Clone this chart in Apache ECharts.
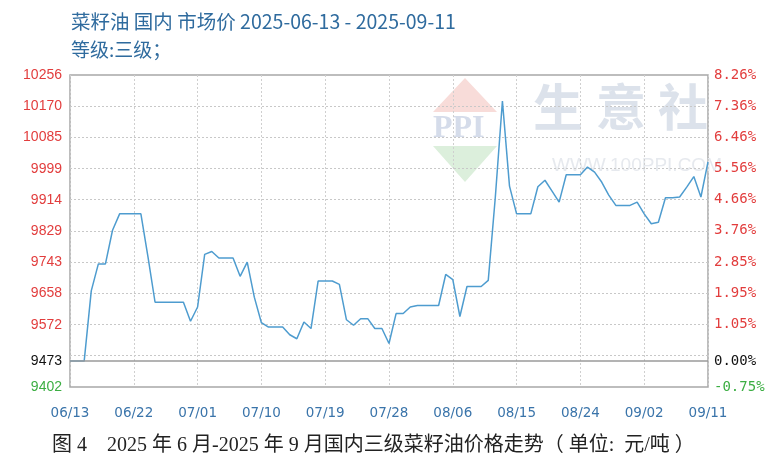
<!DOCTYPE html>
<html>
<head>
<meta charset="utf-8">
<script src="https://cdn.jsdelivr.net/npm/echarts@6/dist/echarts.min.js"></script>
<style>
html, body { margin: 0; padding: 0; background: #fff; }
#chart { width: 771px; height: 463px; }
</style>
</head>
<body>
<div id="chart"></div>
<script>
// 日期: 2025-06-13 ~ 2025-09-11, 每天一个点
const startDay = new Date(2025, 5, 13)
const dayCount = 91
const dates = []
for (let i = 0; i < dayCount; i++) {
  const d = new Date(startDay.getTime() + i * 86400000)
  dates.push(String(d.getMonth() + 1).padStart(2, '0') + '/' + String(d.getDate()).padStart(2, '0'))
}

// 三级菜籽油价格 (元/吨)
const prices = [
  9473, 9473, 9473, 9665, 9739, 9739, 9831, 9876, 9876, 9876,
  9876, 9758, 9634, 9634, 9634, 9634, 9634, 9582, 9621, 9765,
  9773, 9755, 9755, 9755, 9705, 9744, 9648, 9578, 9566, 9566,
  9566, 9545, 9534, 9580, 9562, 9692, 9692, 9692, 9683, 9586,
  9571, 9589, 9589, 9562, 9562, 9521, 9603, 9603, 9621, 9625,
  9625, 9625, 9625, 9710, 9696, 9595, 9677, 9677, 9677, 9694,
  9922, 10185, 9952, 9876, 9876, 9876, 9950, 9968, 9938, 9908,
  9983, 9983, 9983, 10004, 9990, 9963, 9927, 9899, 9899, 9899,
  9908, 9876, 9849, 9853, 9920, 9920, 9922, 9949, 9978, 9922,
  10018
]

const basePrice = 9473
const leftTicks = [10256, 10170, 10085, 9999, 9914, 9829, 9743, 9658, 9572, 9473, 9402]
const gridTicks = [10171, 10085, 10000, 9915, 9829, 9744, 9659, 9573, 9488]
const pctTicks = [8.26, 7.36, 6.46, 5.56, 4.66, 3.76, 2.85, 1.95, 1.05, 0, -0.75]

const upColor = '#e23d3d'
const downColor = '#3cae43'

let chart = echarts.init(document.getElementById('chart'))
const option = {
  animation: false,
  title: [
    {
      text: '菜籽油 国内 市场价 2025-06-13 - 2025-09-11',
      left: 66,
      top: 7,
      textStyle: { fontSize: 19.5, fontWeight: 'normal', color: '#2f6b9e', fontFamily: 'Noto Sans CJK SC' }
    },
    {
      text: '等级:三级；',
      left: 66,
      top: 35,
      textStyle: { fontSize: 19, fontWeight: 'normal', color: '#2f6b9e', fontFamily: 'Noto Sans CJK SC' }
    },
    {
      text: '图 4    2025 年 6 月-2025 年 9 月国内三级菜籽油价格走势（ 单位:  元/吨 ）',
      left: 47,
      top: 431,
      textStyle: { fontSize: 20, fontWeight: 'normal', color: '#222', fontFamily: "'Liberation Serif', 'Noto Sans CJK SC'" }
    }
  ],
  grid: {
    left: 70,
    right: 63,
    top: 75,
    bottom: 76,
    show: true,
    borderColor: '#a8a8a8',
    borderWidth: 1.5
  },
  graphic: [
    // 水印
    { type: 'polygon', shape: { points: [[465, 78], [433, 112], [497, 112]] }, style: { fill: '#f8dcd9' }, silent: true },
    { type: 'polygon', shape: { points: [[433, 146], [497, 146], [465, 182]] }, style: { fill: '#dcefdc' }, silent: true },
    { type: 'text', left: 433, top: 113, style: { text: 'PPI', fontSize: 32, fontWeight: 'bold', fontFamily: 'Liberation Serif', fill: '#d5dcea' }, silent: true },
    { type: 'text', left: 533, top: 82, style: { text: '生', fontSize: 50, fontWeight: 'bold', fontFamily: 'Noto Sans CJK SC', fill: '#dce2eb' }, silent: true },
    { type: 'text', left: 596, top: 82, style: { text: '意', fontSize: 50, fontWeight: 'bold', fontFamily: 'Noto Sans CJK SC', fill: '#dce2eb' }, silent: true },
    { type: 'text', left: 658, top: 82, style: { text: '社', fontSize: 50, fontWeight: 'bold', fontFamily: 'Noto Sans CJK SC', fill: '#dce2eb' }, silent: true },
    { type: 'text', left: 552, top: 156, style: { text: 'WWW.100PPI.COM', fontSize: 19, fontFamily: 'Liberation Sans', fill: '#e6e9ee' }, silent: true }
  ],
  xAxis: {
    type: 'category',
    data: dates,
    boundaryGap: false,
    axisLine: { show: false },
    axisTick: { show: false },
    axisLabel: {
      interval: 8,
      margin: 19,
      color: '#3a74aa',
      fontSize: 13.5,
      fontFamily: 'DejaVu Sans'
    },
    splitLine: {
      show: true,
      interval: 8,
      lineStyle: { color: '#cfcfcf', type: [2, 2] }
    }
  },
  yAxis: [
    {
      type: 'value',
      min: 9402,
      max: 10256,
      axisLine: { show: false },
      axisTick: { show: false, customValues: gridTicks },
      axisLabel: {
        customValues: leftTicks,
        margin: 8,
        fontSize: 14,
        fontFamily: 'Liberation Sans',
        formatter: (v) => String(v),
        color: (v) => {
          const n = Number(v)
          if (n > basePrice) return upColor
          if (n < basePrice) return downColor
          return '#111'
        }
      },
      splitLine: { show: true, lineStyle: { color: '#c8c8c8', type: [2, 2] } }
    },
    {
      type: 'value',
      position: 'right',
      min: -0.75,
      max: 8.26,
      axisLine: { show: false },
      axisTick: { show: false },
      splitLine: { show: false },
      axisLabel: {
        customValues: pctTicks,
        margin: 6,
        fontSize: 14,
        fontFamily: 'DejaVu Sans Mono',
        formatter: (v) => Number(v).toFixed(2) + '%',
        color: (v) => {
          const n = Number(v)
          if (n > 0) return upColor
          if (n < 0) return downColor
          return '#111'
        }
      }
    }
  ],
  series: [
    {
      name: '三级',
      type: 'line',
      data: prices,
      symbol: 'none',
      lineStyle: { color: '#4e9ccf', width: 1.5 },
      markLine: {
        silent: true,
        symbol: 'none',
        label: { show: false },
        lineStyle: { color: '#9a9a9a', type: 'solid', width: 1.5 },
        data: [{ yAxis: basePrice }]
      }
    }
  ]
}
chart.setOption(option)
</script>
</body>
</html>
